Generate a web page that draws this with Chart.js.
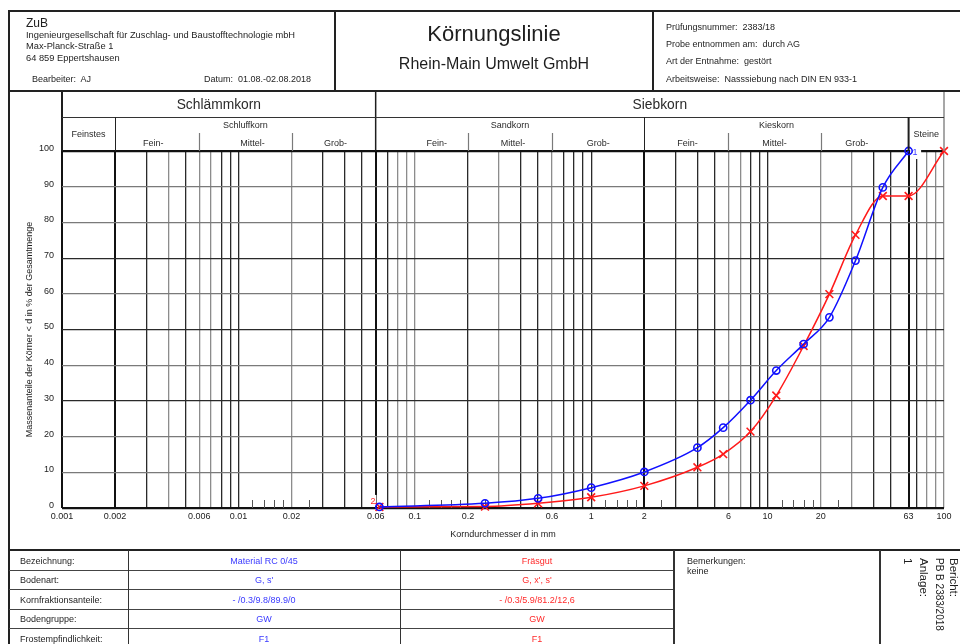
<!DOCTYPE html>
<html lang="de">
<head>
<meta charset="utf-8">
<title>Körnungslinie</title>
<script src="https://cdn.jsdelivr.net/npm/chart.js@4.4.1/dist/chart.umd.min.js"></script>
<style>
  html, body { margin:0; padding:0; background:#fff; }
  body { position:relative; width:960px; height:644px; overflow:hidden;
         font-family:"Liberation Sans", Arial, Helvetica, sans-serif; color:#1e1e1e; }
  #chart { position:absolute; left:0; top:0; }
  .t { position:absolute; white-space:nowrap; line-height:1; }
  .c { transform:translateX(-50%); }
  .h { position:absolute; height:0; }
  .v { position:absolute; width:0; }
  .blue { color:#3a3aff; }
  .red { color:#ff2a2a; }
</style>
</head>
<body>
<canvas id="chart" width="960" height="644"></canvas>

<!-- report header -->
<div class="h" style="left:8px;top:10px;width:952px;border-top:2px solid #222"></div>
<div class="h" style="left:8px;top:90px;width:952px;border-top:2px solid #222"></div>
<div class="v" style="left:8px;top:10px;height:634px;border-left:2px solid #222"></div>
<div class="v" style="left:334px;top:10px;height:81px;border-left:2px solid #222"></div>
<div class="v" style="left:652px;top:10px;height:81px;border-left:2px solid #222"></div>

<div class="t" style="left:26px;top:16.7px;font-size:12px">ZuB</div>
<div class="t" style="left:26px;top:30.5px;font-size:9.3px">Ingenieurgesellschaft für Zuschlag- und Baustofftechnologie mbH</div>
<div class="t" style="left:26px;top:41.5px;font-size:9.3px">Max-Planck-Straße 1</div>
<div class="t" style="left:26px;top:53.7px;font-size:9.3px">64 859 Eppertshausen</div>
<div class="t" style="left:32px;top:74.5px;font-size:9px">Bearbeiter:&nbsp; AJ</div>
<div class="t" style="left:204px;top:74.5px;font-size:9px">Datum:&nbsp; 01.08.-02.08.2018</div>

<div class="t c" style="left:494px;top:22.7px;font-size:22px">Körnungslinie</div>
<div class="t c" style="left:494px;top:56.2px;font-size:16px">Rhein-Main Umwelt GmbH</div>

<div class="t" style="left:666px;top:22.8px;font-size:9px">Prüfungsnummer:&nbsp; 2383/18</div>
<div class="t" style="left:666px;top:40px;font-size:9px">Probe entnommen am:&nbsp; durch AG</div>
<div class="t" style="left:666px;top:57.2px;font-size:9px">Art der Entnahme:&nbsp; gestört</div>
<div class="t" style="left:666px;top:74.5px;font-size:9px">Arbeitsweise:&nbsp; Nasssiebung nach DIN EN 933-1</div>

<!-- sample table -->
<div class="h" style="left:8px;top:549px;width:952px;border-top:2px solid #222"></div>
<div class="h" style="left:9px;top:570px;width:665px;border-top:1px solid #444"></div>
<div class="h" style="left:9px;top:589px;width:665px;border-top:1px solid #444"></div>
<div class="h" style="left:9px;top:609px;width:665px;border-top:1px solid #444"></div>
<div class="h" style="left:9px;top:628px;width:665px;border-top:1px solid #444"></div>
<div class="v" style="left:128px;top:550px;height:94px;border-left:1px solid #333"></div>
<div class="v" style="left:400px;top:550px;height:94px;border-left:1px solid #333"></div>
<div class="v" style="left:673px;top:550px;height:94px;border-left:2px solid #333"></div>
<div class="v" style="left:879px;top:550px;height:94px;border-left:2px solid #333"></div>

<div class="t" style="left:20px;top:556.5px;font-size:9px">Bezeichnung:</div>
<div class="t" style="left:20px;top:576px;font-size:9px">Bodenart:</div>
<div class="t" style="left:20px;top:595.5px;font-size:9px">Kornfraktionsanteile:</div>
<div class="t" style="left:20px;top:615.3px;font-size:9px">Bodengruppe:</div>
<div class="t" style="left:20px;top:635px;font-size:9px">Frostempfindlichkeit:</div>

<div class="t c blue" style="left:264px;top:556.5px;font-size:9px">Material RC 0/45</div>
<div class="t c blue" style="left:264px;top:576px;font-size:9px">G, s'</div>
<div class="t c blue" style="left:264px;top:595.5px;font-size:9px">- /0.3/9.8/89.9/0</div>
<div class="t c blue" style="left:264px;top:615.3px;font-size:9px">GW</div>
<div class="t c blue" style="left:264px;top:635px;font-size:9px">F1</div>

<div class="t c red" style="left:537px;top:556.5px;font-size:9px">Fräsgut</div>
<div class="t c red" style="left:537px;top:576px;font-size:9px">G, x', s'</div>
<div class="t c red" style="left:537px;top:595.5px;font-size:9px">- /0.3/5.9/81.2/12,6</div>
<div class="t c red" style="left:537px;top:615.3px;font-size:9px">GW</div>
<div class="t c red" style="left:537px;top:635px;font-size:9px">F1</div>

<div class="t" style="left:687px;top:556.5px;font-size:9px">Bemerkungen:</div>
<div class="t" style="left:687px;top:567.3px;font-size:9px">keine</div>

<div class="t" style="left:959px;top:558px;font-size:11.5px;transform-origin:0 0;transform:rotate(90deg)">Bericht:</div>
<div class="t" style="left:943.5px;top:558px;font-size:10px;transform-origin:0 0;transform:rotate(90deg)">PB B 2383/2018</div>
<div class="t" style="left:928.5px;top:558px;font-size:11.5px;transform-origin:0 0;transform:rotate(90deg)">Anlage:</div>
<div class="t" style="left:912.5px;top:558px;font-size:11.5px;transform-origin:0 0;transform:rotate(90deg)">1</div>

<script>
// Sieve analysis: grain size d in mm and mass passing in %
const sizesRC     = [0.063, 0.25, 0.5, 1, 2, 4, 5.6, 8, 11.2, 16, 22.4, 31.5, 45, 63];
const passingRC   = [0.3, 1.3, 2.7, 5.7, 10.1, 16.9, 22.5, 30.2, 38.5, 45.9, 53.4, 69.3, 89.8, 100];
const sizesFraes  = [0.063, 0.25, 0.5, 1, 2, 4, 5.6, 8, 11.2, 16, 22.4, 31.5, 45, 63, 100];
const passingFraes = [0.3, 0.4, 1.3, 3.0, 6.2, 11.4, 15.1, 21.4, 31.5, 45.4, 59.9, 76.5, 87.4, 87.4, 100];

// Grain sizes of the vertical grid and the ones that carry a label
const gridSizes = [0.001, 0.002, 0.003, 0.004, 0.005, 0.006, 0.007, 0.008, 0.009,
                   0.01, 0.02, 0.03, 0.04, 0.05, 0.06, 0.07, 0.08, 0.09,
                   0.1, 0.2, 0.3, 0.4, 0.5, 0.6, 0.7, 0.8, 0.9,
                   1, 2, 3, 4, 5, 6, 7, 8, 9,
                   10, 20, 30, 40, 50, 63, 70, 80, 90, 100];
const labelledSizes = [0.001, 0.002, 0.006, 0.01, 0.02, 0.06, 0.1, 0.2, 0.6, 1, 2, 6, 10, 20, 63, 100];
const heavySizes = [0.001, 0.002, 0.06, 2, 63];
const paleSizes = [0.004, 0.006, 0.007, 0.02, 0.08, 0.09, 0.1, 0.3, 0.6, 6, 7, 20, 30, 80, 90, 100];
// short marks along the bottom axis
const minorSizes = [0.012, 0.014, 0.016, 0.018, 0.025, 0.12, 0.14, 0.16, 0.18, 0.25,
                    1.2, 1.4, 1.6, 1.8, 2.5, 12, 14, 16, 18, 25];
const percentTicks = [0, 10, 20, 30, 40, 50, 60, 70, 80, 90, 100];
const palePercents = [10, 20, 40, 60, 80, 90];

// Soil classification bands above the plot
const bandMain = [
  {text: 'Schlämmkorn', from: 0.001, to: 0.06},
  {text: 'Siebkorn', from: 0.06, to: 100}
];
const bandGroups = [
  {text: 'Feinstes', from: 0.001, to: 0.002, single: true},
  {text: 'Schluffkorn', from: 0.002, to: 0.06},
  {text: 'Sandkorn', from: 0.06, to: 2},
  {text: 'Kieskorn', from: 2, to: 63},
  {text: 'Steine', from: 63, to: 100, single: true}
];
const bandSubs = [
  {text: 'Fein-', from: 0.002, to: 0.006, dx: -4},
  {text: 'Mittel-', from: 0.006, to: 0.02, dx: 7},
  {text: 'Grob-', from: 0.02, to: 0.06, dx: 2},
  {text: 'Fein-', from: 0.06, to: 0.2, dx: 15},
  {text: 'Mittel-', from: 0.2, to: 0.6, dx: 3},
  {text: 'Grob-', from: 0.6, to: 2, dx: 0},
  {text: 'Fein-', from: 2, to: 6, dx: 1},
  {text: 'Mittel-', from: 6, to: 20, dx: 0},
  {text: 'Grob-', from: 20, to: 63, dx: -8}
];

const FONT = '"Liberation Sans", Arial, Helvetica, sans-serif';
Chart.defaults.font.family = FONT;

const same = (a, b) => Math.abs(Math.log10(a / b)) < 1e-6;
const inList = (v, list) => list.some(s => same(v, s));

const BAND_TOP = 92, BAND_MID = 117, BAND_SUB = 133;

const classificationBands = {
  id: 'classificationBands',
  afterDraw(chart) {
    const {ctx, chartArea: a, scales: {x}} = chart;
    const px = v => x.getPixelForValue(v);
    const line = (x1, y1, x2, y2, color, w) => {
      ctx.beginPath(); ctx.strokeStyle = color; ctx.lineWidth = w;
      ctx.moveTo(x1, y1); ctx.lineTo(x2, y2); ctx.stroke();
    };
    ctx.save();
    line(a.left, BAND_TOP, a.left, a.top, '#1e1e1e', 2);
    line(a.right, BAND_TOP, a.right, a.top, '#8a8a8a', 1.5);
    line(px(0.06), BAND_TOP, px(0.06), a.top, '#1e1e1e', 1.5);
    line(a.left, BAND_MID + 0.5, a.right, BAND_MID + 0.5, '#333', 1);
    [0.002, 2].forEach(v => line(Math.round(px(v)) + 0.5, BAND_MID, Math.round(px(v)) + 0.5, a.top, '#222', 1));
    line(px(63), BAND_MID, px(63), a.top, '#1e1e1e', 2);
    [0.006, 0.02, 0.2, 0.6, 6, 20].forEach(v =>
      line(Math.round(px(v)) + 0.5, BAND_SUB, Math.round(px(v)) + 0.5, a.top, '#7a7a7a', 1.2));

    ctx.fillStyle = '#2a2a2a';
    ctx.textAlign = 'center';
    ctx.textBaseline = 'middle';
    ctx.font = '13.8px ' + FONT;
    bandMain.forEach(b => ctx.fillText(b.text, (px(b.from) + px(b.to)) / 2, 105));
    ctx.font = '9px ' + FONT;
    bandGroups.forEach(b => ctx.fillText(b.text, (px(b.from) + px(b.to)) / 2, b.single ? 135 : 126));
    bandSubs.forEach(b => ctx.fillText(b.text, (px(b.from) + px(b.to)) / 2 + b.dx, 143.5));
    ctx.restore();
  }
};

const axisMarks = {
  id: 'axisMarks',
  beforeDatasetsDraw(chart) {
    const {ctx, chartArea: a, scales: {x}} = chart;
    ctx.save();
    ctx.strokeStyle = '#555';
    ctx.lineWidth = 1;
    minorSizes.forEach(v => {
      const p = Math.round(x.getPixelForValue(v)) + 0.5;
      ctx.beginPath(); ctx.moveTo(p, a.bottom); ctx.lineTo(p, a.bottom - 8); ctx.stroke();
    });
    // clear spots behind the curve numbers
    ctx.fillStyle = '#fff';
    const m0 = chart.getDatasetMeta(0).data;
    const last = m0[m0.length - 1];
    ctx.fillRect(last.x + 1.5, last.y - 6, 11, 14);
    const first = chart.getDatasetMeta(1).data[0];
    ctx.fillRect(first.x - 11, first.y - 12, 8, 11);
    ctx.restore();
  },
  afterDatasetsDraw(chart) {
    const {ctx} = chart;
    ctx.save();
    ctx.textAlign = 'center';
    ctx.textBaseline = 'middle';
    ctx.font = '9px ' + FONT;
    const m0 = chart.getDatasetMeta(0).data;
    const last = m0[m0.length - 1];
    ctx.fillStyle = '#3a3aff';
    ctx.fillText('1', last.x + 6.5, last.y + 1.5);
    const first = chart.getDatasetMeta(1).data[0];
    ctx.fillStyle = '#ff2a2a';
    ctx.fillText('2', first.x - 6.5, first.y - 5);
    ctx.restore();
  }
};

new Chart(document.getElementById('chart'), {
  type: 'line',
  data: {
    datasets: [
      {
        label: 'Material RC 0/45',
        data: sizesRC.map((d, i) => ({x: d, y: passingRC[i]})),
        borderColor: '#1010ff',
        borderWidth: 1.5,
        pointStyle: 'circle',
        pointRadius: 3.6,
        pointBorderWidth: 1.6,
        pointBorderColor: '#1010ff',
        pointBackgroundColor: 'rgba(255,255,255,0)',
        cubicInterpolationMode: 'monotone',
        clip: false
      },
      {
        label: 'Fräsgut',
        data: sizesFraes.map((d, i) => ({x: d, y: passingFraes[i]})),
        borderColor: '#ff1a1a',
        borderWidth: 1.5,
        pointStyle: 'crossRot',
        pointRadius: 5.5,
        pointBorderWidth: 1.6,
        pointBorderColor: '#ff1a1a',
        cubicInterpolationMode: 'monotone',
        clip: false
      }
    ]
  },
  options: {
    responsive: false,
    animation: false,
    events: [],
    layout: {padding: {left: 9, right: 16, top: 151, bottom: 96}},
    plugins: {legend: {display: false}, tooltip: {enabled: false}},
    scales: {
      x: {
        type: 'logarithmic',
        min: 0.001,
        max: 100,
        afterBuildTicks: s => { s.ticks = gridSizes.map(v => ({value: v})); },
        afterFit: s => { s.height = 40; },
        border: {display: false},
        grid: {
          drawTicks: false,
          color: c => inList(c.tick.value, heavySizes) ? '#111'
                     : inList(c.tick.value, paleSizes) ? '#8c8c8c' : '#2a2a2a',
          lineWidth: c => inList(c.tick.value, heavySizes) ? 2 : 1.3
        },
        ticks: {
          autoSkip: false, maxRotation: 0, minRotation: 0, padding: 3,
          color: '#222', font: {size: 9},
          callback: v => inList(v, labelledSizes) ? String(v) : ''
        },
        title: {
          display: true, text: 'Korndurchmesser d in mm',
          color: '#222', font: {size: 9}, padding: {top: 0, bottom: 7.6}
        }
      },
      y: {
        min: 0,
        max: 100,
        afterBuildTicks: s => { s.ticks = percentTicks.map(v => ({value: v})); },
        afterFit: s => { s.width = 53; },
        border: {display: false},
        grid: {
          drawTicks: false,
          color: c => (c.tick.value === 0 || c.tick.value === 100) ? '#111'
                     : palePercents.includes(c.tick.value) ? '#7a7a7a' : '#2a2a2a',
          lineWidth: c => (c.tick.value === 0 || c.tick.value === 100) ? 2.2 : 1.2
        },
        ticks: {padding: 8, labelOffset: -2.5, color: '#222', font: {size: 9}},
        title: {
          display: true, text: 'Massenanteile der Körner < d in % der Gesamtmenge',
          color: '#222', font: {size: 9}, padding: {top: 15.6, bottom: 0}
        }
      }
    }
  },
  plugins: [axisMarks, classificationBands]
});
</script>
</body>
</html>
